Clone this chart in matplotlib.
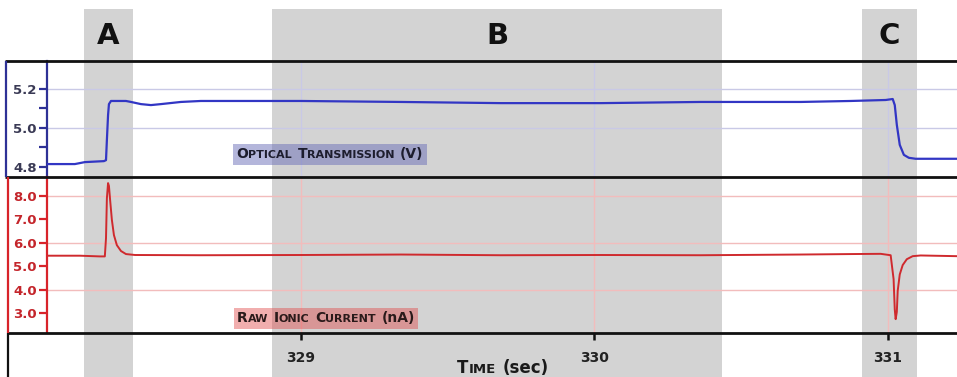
import matplotlib
matplotlib.use("Agg")
import matplotlib.pyplot as plt
from matplotlib.lines import Line2D
from matplotlib.offsetbox import TextArea, HPacker, AnnotationBbox

# data (time in sec)
opt_t = [328.135, 328.230, 328.264, 328.329, 328.336, 328.339, 328.343, 328.346, 328.353,
         328.363, 328.404, 328.421, 328.455, 328.489, 328.523, 328.591, 328.659, 329.000,
         329.340, 329.681, 330.022, 330.362, 330.703, 330.873, 330.992, 331.016, 331.023,
         331.030, 331.040, 331.054, 331.071, 331.094, 331.145, 331.235]
opt_v = [4.815, 4.815, 4.825, 4.830, 4.835, 4.937, 5.065, 5.121, 5.137,
         5.137, 5.137, 5.132, 5.121, 5.116, 5.121, 5.132, 5.137, 5.137,
         5.132, 5.126, 5.126, 5.132, 5.132, 5.137, 5.142, 5.147, 5.116,
         5.015, 4.913, 4.862, 4.847, 4.842, 4.842, 4.842]

ion_t = [328.135, 328.247, 328.315, 328.332, 328.336, 328.339, 328.343, 328.346, 328.350,
         328.356, 328.363, 328.373, 328.387, 328.404, 328.435, 328.659, 329.000, 329.340,
         329.681, 330.022, 330.362, 330.703, 330.873, 330.975, 331.009, 331.019, 331.023,
         331.026, 331.030, 331.033, 331.040, 331.050, 331.064, 331.084, 331.111, 331.235]
ion_i = [5.45, 5.45, 5.42, 5.42, 6.20, 7.90, 8.55, 8.43, 7.83,
         6.98, 6.33, 5.90, 5.65, 5.52, 5.48, 5.47, 5.48, 5.50,
         5.47, 5.48, 5.47, 5.50, 5.52, 5.53, 5.47, 4.45, 3.15,
         2.74, 3.05, 3.95, 4.65, 5.05, 5.30, 5.43, 5.46, 5.43]

spans = [(328.261, 328.428), (328.902, 330.435), (330.912, 331.099)]
span_names = ["A", "B", "C"]
x_ticks = [329, 330, 331]
opt_major = [4.8, 5.0, 5.2]
opt_minor = [4.9, 5.1]
opt_grid = [5.0, 5.2]
ion_ticks = [3.0, 4.0, 5.0, 6.0, 7.0, 8.0]
ion_grid = [4.0, 6.0, 8.0]

XLIM = (328.135, 331.235)
BLUE = "#3236c4"
BLUE_AX = "#2e3196"
RED = "#cf2a2e"
RED_AX = "#d8232a"
GRAY = "#d3d3d3"
FONT = "DejaVu Sans"

W, H = 957, 377
def fx(px): return px / W
def fy(py): return 1 - py / H

fig = plt.figure(figsize=(9.57, 3.77), dpi=100)

# shaded bands behind everything
bg = fig.add_axes([fx(47), 0, fx(957) - fx(47), fy(9)], zorder=0)
bg.set_xlim(XLIM)
bg.set_ylim(0, 1)
bg.axis("off")
for (a, b), name in zip(spans, span_names):
    bg.axvspan(a, b, color=GRAY, lw=0)
    bg.text((a + b) / 2, 0.927, name, ha="center", va="center", fontsize=21,
            fontweight="bold", color="#111111", family=FONT)

ax1 = fig.add_axes([fx(47), fy(177), fx(957) - fx(47), (177 - 61) / H], zorder=2)
ax2 = fig.add_axes([fx(47), fy(333), fx(957) - fx(47), (333 - 177) / H], zorder=2)

for ax in (ax1, ax2):
    ax.set_facecolor("none")
    ax.set_xlim(XLIM)
    for s in ("top", "right", "bottom"):
        ax.spines[s].set_visible(False)

# top panel
ax1.set_ylim(4.749, 5.341)
for g in opt_grid:
    ax1.axhline(g, color="#c9c9e6", lw=1, zorder=1)
for t in x_ticks:
    ax1.axvline(t, color="#c9c9e6", lw=1, zorder=1)
ax1.plot(opt_t, opt_v, color=BLUE, lw=1.6, zorder=3)
ax1.spines["left"].set_color(BLUE_AX)
ax1.spines["left"].set_linewidth(1.6)
ax1.set_yticks(opt_major)
ax1.set_yticks(opt_minor, minor=True)
ax1.set_yticklabels([f"{v:.1f}" for v in opt_major])
ax1.tick_params(axis="y", which="both", color=BLUE_AX, length=6, width=1.6,
                pad=1.5, labelcolor="#3a3a55", labelsize=9.5)
ax1.set_xticks([])
for lab in ax1.get_yticklabels():
    lab.set_fontweight("bold")

# bottom panel
ax2.set_ylim(2.15, 8.81)
for g in ion_grid:
    ax2.axhline(g, color="#f2bcbc", lw=1, zorder=1)
for t in x_ticks:
    ax2.axvline(t, color="#f2bcbc", lw=1, zorder=1)
ax2.plot(ion_t, ion_i, color=RED, lw=1.4, zorder=3)
ax2.spines["left"].set_color(RED_AX)
ax2.spines["left"].set_linewidth(1.6)
ax2.set_yticks(ion_ticks)
ax2.set_yticklabels([f"{v:.1f}" for v in ion_ticks])
ax2.tick_params(axis="y", color=RED_AX, length=6, width=1.6, pad=1.5,
                labelcolor="#c4252b", labelsize=9.5)
ax2.set_xticks(x_ticks)
ax2.set_xticklabels([str(t) for t in x_ticks])
ax2.tick_params(axis="x", color="#111111", length=5, width=1.8, pad=8,
                labelcolor="#222222", labelsize=10)
for lab in ax2.get_yticklabels() + ax2.get_xticklabels():
    lab.set_fontweight("bold")

# frame lines
def fline(xs, ys, color, lw):
    fig.add_artist(Line2D([fx(x) for x in xs], [fy(y) for y in ys], color=color, lw=lw,
                          solid_capstyle="butt", zorder=5))

fline([5, 957], [61, 61], "#111111", 2)
fline([5, 957], [177, 177], "#111111", 2)
fline([8, 957], [333, 333], "#111111", 2)
fline([6, 6], [61, 177], BLUE_AX, 1.6)
fline([8, 8], [177, 333], RED_AX, 1.6)
fline([8, 8], [333, 377], "#111111", 1.6)


def small_caps(words, big, small, color):
    boxes = []
    for word in words:
        parts = []
        for txt, is_big in word:
            parts.append(TextArea(txt, textprops=dict(fontsize=big if is_big else small,
                                                      color=color, family=FONT,
                                                      fontweight="bold")))
        boxes.append(HPacker(children=parts, align="baseline", pad=0, sep=0))
    return HPacker(children=boxes, align="baseline", pad=0, sep=big * 0.4)


opt_label = small_caps([[("O", 1), ("PTICAL", 0)], [("T", 1), ("RANSMISSION", 0)], [("(V)", 1)]],
                       10, 8, "#1d1d2e")
ab = AnnotationBbox(opt_label, (0.311, 0.198), xycoords="axes fraction", frameon=True,
                    pad=0.25, bboxprops=dict(facecolor=(0.42, 0.43, 0.72, 0.5),
                                             edgecolor="none", boxstyle="square,pad=0.25"),
                    zorder=4)
ax1.add_artist(ab)

ion_label = small_caps([[("R", 1), ("AW", 0)], [("I", 1), ("ONIC", 0)], [("C", 1), ("URRENT", 0)],
                        [("(nA)", 1)]], 10, 8, "#2a1a1a")
ab2 = AnnotationBbox(ion_label, (0.3066, 0.093), xycoords="axes fraction", frameon=True,
                     pad=0.25, bboxprops=dict(facecolor=(0.88, 0.3, 0.3, 0.45),
                                              edgecolor="none", boxstyle="square,pad=0.25"),
                     zorder=4)
ax2.add_artist(ab2)

time_label = small_caps([[("T", 1), ("IME", 0)], [("(sec)", 1)]], 12, 9.5, "#1a1a1a")
ab3 = AnnotationBbox(time_label, (fx(503), fy(368)), xycoords="figure fraction",
                     frameon=False, pad=0)
fig.add_artist(ab3)

fig.savefig("out.png", dpi=100)
